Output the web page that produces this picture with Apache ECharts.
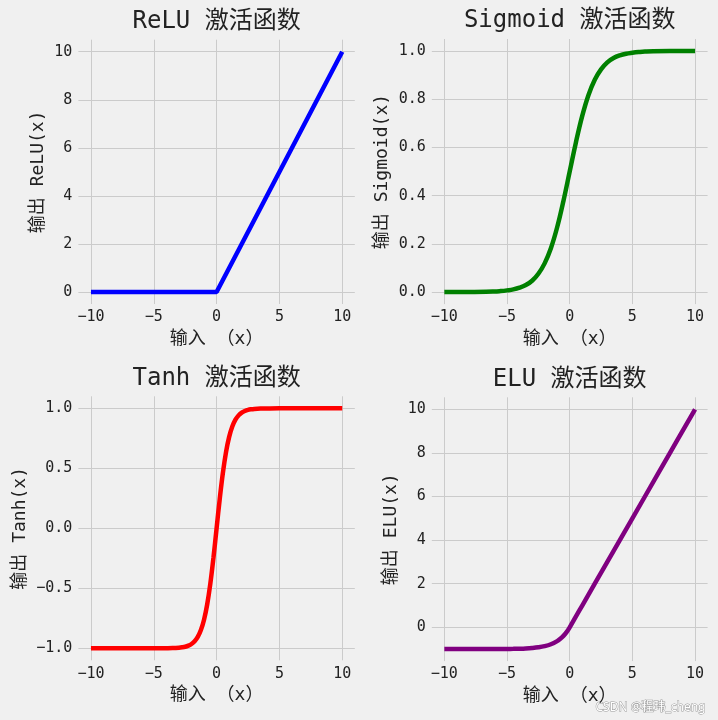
<!DOCTYPE html>
<html>
<head>
<meta charset="utf-8">
<script src="https://cdn.jsdelivr.net/npm/echarts@6/dist/echarts.min.js"></script>
<style>
  html, body { margin: 0; padding: 0; background: #f0f0f0; }
  #main { width: 718px; height: 720px; }
</style>
</head>
<body>
<div id="main"></div>
<script>
var FONT = "'DejaVu Sans Mono', 'Noto Sans CJK SC', monospace";

// 横轴刻度 (四个子图共用)
var xTicks = [-10, -5, 0, 5, 10];

// ReLU 曲线
var reluX = [-10, 0, 10];
var reluY = [0, 0, 10];
var reluTicks = [0, 2, 4, 6, 8, 10];

// Sigmoid 曲线
var sigX = [-10, -8, -6, -5.5, -5, -4.5, -4, -3.5, -3, -2.5, -2, -1.5, -1, -0.5, 0, 0.5, 1, 1.5, 2, 2.5, 3, 3.5, 4, 4.5, 5, 5.5, 6, 8, 10];
var sigY = [0.000, 0.000, 0.002, 0.004, 0.007, 0.011, 0.018, 0.029, 0.047, 0.076, 0.119, 0.182, 0.269, 0.378, 0.500, 0.622, 0.731, 0.818, 0.881, 0.924, 0.953, 0.971, 0.982, 0.989, 0.993, 0.996, 0.998, 1.000, 1.000];
var sigTicks = [0, 0.2, 0.4, 0.6, 0.8, 1.0];

// Tanh 曲线
var tanhX = [-10, -5, -4, -3.5, -3, -2.75, -2.5, -2.25, -2, -1.75, -1.5, -1.25, -1, -0.75, -0.5, -0.25, 0, 0.25, 0.5, 0.75, 1, 1.25, 1.5, 1.75, 2, 2.25, 2.5, 2.75, 3, 3.5, 4, 5, 10];
var tanhY = [-1.000, -1.000, -0.999, -0.998, -0.995, -0.992, -0.987, -0.978, -0.964, -0.941, -0.905, -0.848, -0.762, -0.635, -0.462, -0.245, 0.000, 0.245, 0.462, 0.635, 0.762, 0.848, 0.905, 0.941, 0.964, 0.978, 0.987, 0.992, 0.995, 0.998, 0.999, 1.000, 1.000];
var tanhTicks = [-1.0, -0.5, 0.0, 0.5, 1.0];

// ELU 曲线
var eluX = [-10, -8, -6, -5, -4.5, -4, -3.5, -3, -2.5, -2, -1.5, -1, -0.75, -0.5, -0.25, 0, 0.5, 1, 2, 4, 6, 8, 10];
var eluY = [-1.000, -1.000, -0.998, -0.993, -0.989, -0.982, -0.970, -0.950, -0.918, -0.865, -0.777, -0.632, -0.528, -0.393, -0.221, 0, 0.5, 1, 2, 4, 6, 8, 10];
var eluTicks = [0, 2, 4, 6, 8, 10];

// 子图标题与坐标轴名称
var titles = ['ReLU 激活函数', 'Sigmoid 激活函数', 'Tanh 激活函数', 'ELU 激活函数'];
var yNames = ['输出 ReLU(x)', '输出 Sigmoid(x)', '输出 Tanh(x)', '输出 ELU(x)'];
var xName = '输入 （x）';

function zip(xs, ys) {
  var out = [];
  for (var i = 0; i < xs.length; i++) {
    out.push([xs[i], ys[i]]);
  }
  return out;
}

function fmt(digits) {
  return function (v) {
    var s = Math.abs(v).toFixed(digits);
    return (v < 0 ? '\u2212' : '') + s;
  };
}

// 每个子图的绘图区位置 (像素)
var panels = [
  { left: 78.4, top: 39.7, width: 276.4, height: 264.3, min: -0.5, max: 10.5, ticks: reluTicks, digits: 0, nameGap: 31, data: zip(reluX, reluY), color: '#0000ff', smooth: false },
  { left: 431.8, top: 39.0, width: 275.8, height: 265.1, min: -0.05, max: 1.05, ticks: sigTicks, digits: 1, nameGap: 40, data: zip(sigX, sigY), color: '#008000', smooth: 0.4 },
  { left: 78.4, top: 396.3, width: 276.4, height: 264.0, min: -1.1, max: 1.1, ticks: tanhTicks, digits: 1, nameGap: 49, data: zip(tanhX, tanhY), color: '#ff0000', smooth: 0.4 },
  { left: 431.8, top: 397.3, width: 275.8, height: 263.8, min: -1.55, max: 10.55, ticks: eluTicks, digits: 0, nameGap: 31, data: zip(eluX, eluY), color: '#800080', smooth: 0.4 }
];

var grids = [], xAxes = [], yAxes = [], series = [], graphics = [];
var gridLine = { show: true, lineStyle: { color: '#cbcbcb', width: 1 } };

for (var i = 0; i < panels.length; i++) {
  var p = panels[i];
  grids.push({ left: p.left, top: p.top, width: p.width, height: p.height, containLabel: false });
  xAxes.push({
    type: 'value', gridIndex: i, min: -11, max: 11,
    name: xName, nameLocation: 'middle', nameGap: 26,
    nameTextStyle: { fontFamily: FONT, fontSize: 18, color: '#222' },
    axisLine: { show: false },
    axisTick: { show: false, customValues: xTicks },
    axisLabel: { customValues: xTicks, formatter: fmt(0), margin: 6, fontFamily: FONT, fontSize: 15, color: '#222' },
    splitLine: gridLine
  });
  yAxes.push({
    type: 'value', gridIndex: i, min: p.min, max: p.max,
    name: yNames[i], nameLocation: 'middle', nameGap: p.nameGap,
    nameTextStyle: { fontFamily: FONT, fontSize: 18, color: '#222' },
    axisLine: { show: false },
    axisTick: { show: false, customValues: p.ticks },
    axisLabel: { customValues: p.ticks, formatter: fmt(p.digits), margin: 6, fontFamily: FONT, fontSize: 15, color: '#222' },
    splitLine: gridLine
  });
  series.push({
    type: 'line', xAxisIndex: i, yAxisIndex: i,
    data: p.data, showSymbol: false, smooth: p.smooth,
    lineStyle: { color: p.color, width: 4.5 },
    silent: true, animation: false
  });
  graphics.push({
    type: 'text', x: p.left + p.width / 2, y: p.top - 18,
    style: { text: titles[i], fontFamily: FONT, fontSize: 24, fill: '#222', align: 'center', verticalAlign: 'middle' }
  });
}

// 右下角水印
graphics.push({
  type: 'text', right: 12, bottom: 6,
  style: { text: 'CSDN @程玮_cheng', fontFamily: "'Noto Sans', 'Noto Sans CJK SC', sans-serif", fontSize: 12, fill: '#ffffff', stroke: '#9a9a9a', lineWidth: 1 }
});

var chart = echarts.init(document.getElementById('main'));
chart.setOption({
  backgroundColor: '#f0f0f0',
  animation: false,
  grid: grids,
  xAxis: xAxes,
  yAxis: yAxes,
  series: series,
  graphic: graphics
});
</script>
</body>
</html>
